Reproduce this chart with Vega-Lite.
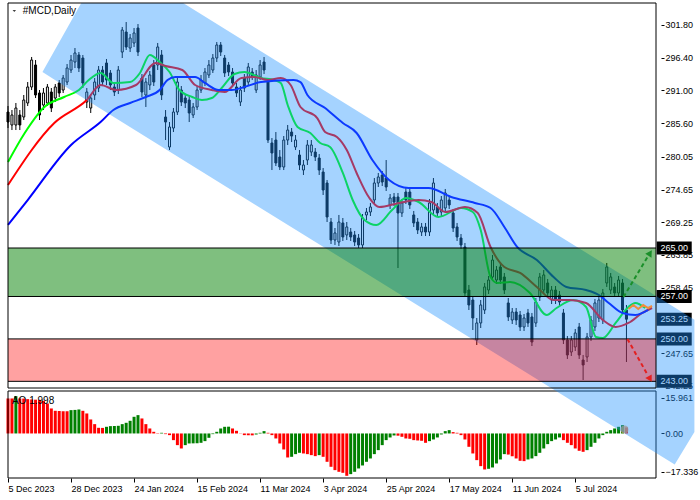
{
"$schema":"https://vega.github.io/schema/vega-lite/v6.json",
"width":700,"height":500,"autosize":"none","padding":0,"background":"#ffffff",
"config":{"view":{"stroke":null},"axis":{"grid":false,"domain":false,"labelFont":"Liberation Sans","labelFontSize":9,"labelColor":"#000000","tickColor":"#000000"}},
"datasets":{
"candles":[
{"i":0,"o":287.44,"h":288.43,"l":284.80,"c":285.79},
{"i":1,"o":285.30,"h":287.77,"l":284.47,"c":286.95},
{"i":2,"o":285.30,"h":288.93,"l":284.47,"c":288.10},
{"i":3,"o":286.95,"h":287.77,"l":284.47,"c":285.30},
{"i":4,"o":286.62,"h":290.25,"l":286.12,"c":289.42},
{"i":5,"o":288.93,"h":292.39,"l":288.43,"c":291.57},
{"i":6,"o":291.57,"h":296.52,"l":291.07,"c":296.02},
{"i":7,"o":295.20,"h":296.02,"l":289.75,"c":290.25},
{"i":8,"o":290.58,"h":291.07,"l":286.12,"c":286.95},
{"i":9,"o":288.60,"h":291.40,"l":287.77,"c":290.58},
{"i":10,"o":288.93,"h":292.06,"l":288.43,"c":291.57},
{"i":11,"o":290.74,"h":291.40,"l":287.44,"c":288.10},
{"i":12,"o":289.75,"h":292.06,"l":289.09,"c":291.57},
{"i":13,"o":292.23,"h":292.72,"l":289.92,"c":290.58},
{"i":14,"o":291.07,"h":293.55,"l":290.58,"c":293.05},
{"i":15,"o":292.39,"h":295.36,"l":291.90,"c":294.70},
{"i":16,"o":294.37,"h":296.85,"l":293.88,"c":296.02},
{"i":17,"o":295.69,"h":298.00,"l":294.70,"c":297.18},
{"i":18,"o":296.85,"h":297.34,"l":294.04,"c":294.70},
{"i":19,"o":296.35,"h":296.85,"l":291.40,"c":292.23},
{"i":20,"o":289.09,"h":291.40,"l":288.10,"c":290.74},
{"i":21,"o":288.10,"h":290.41,"l":287.28,"c":289.75},
{"i":22,"o":290.25,"h":293.05,"l":289.42,"c":292.39},
{"i":23,"o":291.40,"h":295.03,"l":290.74,"c":294.37},
{"i":24,"o":294.37,"h":295.03,"l":291.73,"c":292.39},
{"i":25,"o":295.53,"h":296.19,"l":291.90,"c":292.72},
{"i":26,"o":293.88,"h":294.37,"l":291.07,"c":291.90},
{"i":27,"o":291.57,"h":292.23,"l":290.08,"c":290.74},
{"i":28,"o":291.07,"h":295.03,"l":290.41,"c":294.37},
{"i":29,"o":297.34,"h":301.47,"l":296.35,"c":300.97},
{"i":30,"o":300.64,"h":302.29,"l":297.67,"c":298.17},
{"i":31,"o":298.00,"h":300.31,"l":297.34,"c":299.65},
{"i":32,"o":298.83,"h":301.30,"l":298.17,"c":300.48},
{"i":33,"o":301.30,"h":301.96,"l":296.68,"c":297.34},
{"i":34,"o":293.05,"h":293.71,"l":289.92,"c":290.74},
{"i":35,"o":290.25,"h":293.05,"l":288.27,"c":292.39},
{"i":36,"o":291.90,"h":294.21,"l":291.07,"c":293.55},
{"i":37,"o":295.20,"h":296.02,"l":291.73,"c":292.39},
{"i":38,"o":295.20,"h":298.83,"l":294.37,"c":298.17},
{"i":39,"o":296.85,"h":297.67,"l":289.42,"c":290.25},
{"i":40,"o":286.62,"h":287.77,"l":282.82,"c":285.79},
{"i":41,"o":281.67,"h":285.79,"l":281.17,"c":284.97},
{"i":42,"o":284.80,"h":288.10,"l":284.14,"c":287.44},
{"i":43,"o":287.44,"h":293.05,"l":286.95,"c":292.39},
{"i":44,"o":291.07,"h":291.73,"l":288.43,"c":289.09},
{"i":45,"o":289.75,"h":290.41,"l":288.10,"c":288.93},
{"i":46,"o":289.42,"h":290.08,"l":285.79,"c":287.28},
{"i":47,"o":286.95,"h":288.93,"l":286.45,"c":288.27},
{"i":48,"o":288.27,"h":291.73,"l":287.77,"c":291.07},
{"i":49,"o":291.07,"h":293.55,"l":290.58,"c":292.72},
{"i":50,"o":292.23,"h":294.70,"l":291.73,"c":294.04},
{"i":51,"o":293.55,"h":296.02,"l":293.05,"c":295.20},
{"i":52,"o":294.37,"h":297.01,"l":293.88,"c":296.35},
{"i":53,"o":296.35,"h":298.99,"l":295.69,"c":298.50},
{"i":54,"o":298.50,"h":298.99,"l":296.68,"c":297.34},
{"i":55,"o":296.35,"h":296.85,"l":293.22,"c":293.88},
{"i":56,"o":295.20,"h":295.69,"l":293.38,"c":294.04},
{"i":57,"o":294.04,"h":294.70,"l":291.57,"c":292.23},
{"i":58,"o":291.57,"h":292.23,"l":289.92,"c":290.58},
{"i":59,"o":289.09,"h":291.73,"l":288.43,"c":291.07},
{"i":60,"o":293.05,"h":293.71,"l":290.74,"c":291.40},
{"i":61,"o":292.39,"h":295.53,"l":291.73,"c":294.87},
{"i":62,"o":294.04,"h":294.70,"l":292.72,"c":293.22},
{"i":63,"o":291.07,"h":294.37,"l":290.58,"c":293.55},
{"i":64,"o":293.22,"h":296.02,"l":292.72,"c":295.20},
{"i":65,"o":295.69,"h":296.52,"l":293.71,"c":294.37},
{"i":66,"o":292.39,"h":293.05,"l":282.33,"c":282.82},
{"i":67,"o":282.33,"h":283.15,"l":277.87,"c":280.68},
{"i":68,"o":282.82,"h":284.14,"l":278.53,"c":279.03},
{"i":69,"o":280.02,"h":281.17,"l":277.87,"c":278.37},
{"i":70,"o":278.37,"h":283.48,"l":277.87,"c":282.82},
{"i":71,"o":282.82,"h":285.30,"l":282.00,"c":284.47},
{"i":72,"o":284.14,"h":284.80,"l":282.49,"c":283.48},
{"i":73,"o":281.67,"h":283.65,"l":281.17,"c":282.82},
{"i":74,"o":280.35,"h":281.17,"l":277.87,"c":278.70},
{"i":75,"o":277.87,"h":279.52,"l":277.05,"c":278.70},
{"i":76,"o":279.52,"h":282.82,"l":278.70,"c":282.00},
{"i":77,"o":280.84,"h":282.82,"l":280.18,"c":282.00},
{"i":78,"o":280.84,"h":281.50,"l":279.36,"c":280.02},
{"i":79,"o":279.85,"h":280.51,"l":277.05,"c":277.87},
{"i":80,"o":277.54,"h":278.20,"l":273.75,"c":274.57},
{"i":81,"o":275.73,"h":276.22,"l":269.29,"c":270.12},
{"i":82,"o":269.29,"h":269.95,"l":265.66,"c":266.32},
{"i":83,"o":266.32,"h":268.30,"l":265.50,"c":267.48},
{"i":84,"o":265.99,"h":270.45,"l":265.33,"c":269.29},
{"i":85,"o":269.13,"h":269.95,"l":266.16,"c":266.82},
{"i":86,"o":267.15,"h":269.29,"l":266.32,"c":268.47},
{"i":87,"o":267.64,"h":268.30,"l":266.16,"c":266.82},
{"i":88,"o":267.15,"h":267.81,"l":265.33,"c":265.99},
{"i":89,"o":266.65,"h":267.31,"l":265.00,"c":265.50},
{"i":90,"o":265.50,"h":270.61,"l":265.00,"c":269.95},
{"i":91,"o":270.45,"h":271.60,"l":269.62,"c":270.94},
{"i":92,"o":270.94,"h":272.43,"l":270.28,"c":271.77},
{"i":93,"o":272.92,"h":276.55,"l":272.26,"c":275.73},
{"i":94,"o":275.73,"h":277.38,"l":275.07,"c":276.72},
{"i":95,"o":277.05,"h":277.71,"l":275.23,"c":275.89},
{"i":96,"o":276.55,"h":279.52,"l":274.41,"c":275.07},
{"i":97,"o":272.10,"h":273.91,"l":271.44,"c":273.25},
{"i":98,"o":273.42,"h":274.08,"l":271.93,"c":272.59},
{"i":99,"o":273.42,"h":274.08,"l":261.70,"c":270.78},
{"i":100,"o":270.78,"h":273.09,"l":270.12,"c":272.43},
{"i":101,"o":274.24,"h":274.90,"l":272.26,"c":272.92},
{"i":102,"o":274.24,"h":274.90,"l":271.44,"c":272.10},
{"i":103,"o":270.45,"h":271.11,"l":268.47,"c":269.13},
{"i":104,"o":269.29,"h":269.95,"l":267.31,"c":267.97},
{"i":105,"o":267.64,"h":269.13,"l":266.98,"c":268.47},
{"i":106,"o":268.47,"h":269.13,"l":266.98,"c":267.64},
{"i":107,"o":267.64,"h":273.09,"l":266.98,"c":272.43},
{"i":108,"o":271.27,"h":276.55,"l":270.61,"c":275.73},
{"i":109,"o":271.77,"h":272.43,"l":270.12,"c":270.78},
{"i":110,"o":270.94,"h":273.58,"l":270.28,"c":272.92},
{"i":111,"o":271.60,"h":274.74,"l":270.94,"c":274.08},
{"i":112,"o":272.92,"h":273.58,"l":271.44,"c":272.10},
{"i":113,"o":270.78,"h":271.44,"l":267.64,"c":268.30},
{"i":114,"o":268.47,"h":269.13,"l":266.16,"c":266.82},
{"i":115,"o":266.65,"h":267.31,"l":264.84,"c":265.50},
{"i":116,"o":265.17,"h":265.83,"l":256.92,"c":257.58},
{"i":117,"o":258.07,"h":258.90,"l":254.77,"c":255.60},
{"i":118,"o":256.42,"h":257.08,"l":251.47,"c":253.45},
{"i":119,"o":249.82,"h":253.45,"l":249.00,"c":252.63},
{"i":120,"o":252.63,"h":256.42,"l":251.80,"c":255.60},
{"i":121,"o":254.77,"h":259.23,"l":254.11,"c":258.57},
{"i":122,"o":258.07,"h":260.38,"l":257.41,"c":259.72},
{"i":123,"o":260.22,"h":263.85,"l":259.56,"c":263.02},
{"i":124,"o":259.72,"h":262.03,"l":259.06,"c":261.37},
{"i":125,"o":261.87,"h":262.69,"l":259.06,"c":259.72},
{"i":126,"o":260.22,"h":260.88,"l":257.41,"c":258.07},
{"i":127,"o":255.93,"h":256.75,"l":252.96,"c":253.62},
{"i":128,"o":253.12,"h":255.10,"l":252.46,"c":254.44},
{"i":129,"o":254.44,"h":255.10,"l":252.30,"c":253.12},
{"i":130,"o":253.95,"h":254.61,"l":251.31,"c":251.97},
{"i":131,"o":251.97,"h":254.11,"l":251.31,"c":253.45},
{"i":132,"o":254.28,"h":254.94,"l":251.97,"c":252.63},
{"i":133,"o":253.62,"h":254.28,"l":248.83,"c":249.49},
{"i":134,"o":252.63,"h":256.75,"l":251.97,"c":256.09},
{"i":135,"o":256.92,"h":260.88,"l":256.26,"c":260.22},
{"i":136,"o":258.07,"h":261.37,"l":257.41,"c":260.55},
{"i":137,"o":259.23,"h":259.89,"l":256.92,"c":257.58},
{"i":138,"o":256.42,"h":258.73,"l":255.76,"c":258.07},
{"i":139,"o":258.07,"h":258.73,"l":255.76,"c":256.42},
{"i":140,"o":257.25,"h":257.91,"l":255.43,"c":256.09},
{"i":141,"o":254.28,"h":254.94,"l":249.16,"c":249.82},
{"i":142,"o":249.82,"h":250.48,"l":246.69,"c":247.35},
{"i":143,"o":247.84,"h":250.48,"l":247.18,"c":249.82},
{"i":144,"o":248.67,"h":251.64,"l":248.01,"c":250.98},
{"i":145,"o":251.97,"h":252.63,"l":246.69,"c":247.35},
{"i":146,"o":246.52,"h":247.35,"l":243.22,"c":245.70},
{"i":147,"o":247.02,"h":250.98,"l":246.19,"c":250.32},
{"i":148,"o":250.32,"h":253.78,"l":249.66,"c":253.12},
{"i":149,"o":251.97,"h":256.59,"l":251.31,"c":255.93},
{"i":150,"o":253.45,"h":257.08,"l":252.79,"c":256.42},
{"i":151,"o":253.12,"h":258.24,"l":252.46,"c":257.58},
{"i":152,"o":259.23,"h":262.53,"l":258.57,"c":261.87},
{"i":153,"o":258.07,"h":260.88,"l":257.41,"c":260.22},
{"i":154,"o":258.57,"h":259.23,"l":256.92,"c":257.58},
{"i":155,"o":257.58,"h":260.38,"l":256.92,"c":259.72},
{"i":156,"o":259.23,"h":259.89,"l":254.11,"c":254.77},
{"i":157,"o":254.77,"h":255.60,"l":246.19,"c":253.25}
],
"lines":[
{"s":"lips","i":0,"p":279.19},{"s":"lips","i":4.25,"p":283.98},{"s":"lips","i":9.25,"p":288.27},{"s":"lips","i":14.25,"p":289.92},{"s":"lips","i":18,"p":291.07},{"s":"lips","i":20.5,"p":292.72},{"s":"lips","i":23.5,"p":293.88},{"s":"lips","i":26.75,"p":292.23},{"s":"lips","i":31,"p":292.39},{"s":"lips","i":33.5,"p":293.88},{"s":"lips","i":36,"p":296.85},{"s":"lips","i":38.5,"p":295.69},{"s":"lips","i":41,"p":294.04},{"s":"lips","i":43.5,"p":291.07},{"s":"lips","i":46.75,"p":289.92},{"s":"lips","i":49.25,"p":289.42},{"s":"lips","i":51.75,"p":289.75},{"s":"lips","i":54.25,"p":291.40},{"s":"lips","i":57.5,"p":293.71},{"s":"lips","i":60,"p":294.04},{"s":"lips","i":64.25,"p":293.05},{"s":"lips","i":67.5,"p":292.72},{"s":"lips","i":69.25,"p":292.23},{"s":"lips","i":71,"p":288.60},{"s":"lips","i":73.5,"p":284.97},{"s":"lips","i":76.75,"p":283.98},{"s":"lips","i":79.25,"p":282.33},{"s":"lips","i":81.75,"p":281.67},{"s":"lips","i":85,"p":277.38},{"s":"lips","i":87.5,"p":272.92},{"s":"lips","i":90.5,"p":269.62},{"s":"lips","i":93.5,"p":268.80},{"s":"lips","i":97.5,"p":271.27},{"s":"lips","i":101,"p":273.25},{"s":"lips","i":104.25,"p":272.59},{"s":"lips","i":109.25,"p":270.12},{"s":"lips","i":115,"p":271.60},{"s":"lips","i":118,"p":270.94},{"s":"lips","i":120,"p":267.97},{"s":"lips","i":122.5,"p":260.22},{"s":"lips","i":124.25,"p":259.23},{"s":"lips","i":127.5,"p":259.39},{"s":"lips","i":132.5,"p":257.58},{"s":"lips","i":136.75,"p":253.95},{"s":"lips","i":139.25,"p":255.10},{"s":"lips","i":143.5,"p":256.42},{"s":"lips","i":146.75,"p":255.27},{"s":"lips","i":149.25,"p":250.32},{"s":"lips","i":151,"p":250.15},{"s":"lips","i":154.25,"p":252.63},{"s":"lips","i":157.5,"p":255.27},{"s":"lips","i":159.25,"p":255.93},{"s":"lips","i":161.75,"p":255.10},
{"s":"teeth","i":0,"p":275.40},{"s":"teeth","i":11.75,"p":285.63},{"s":"teeth","i":20,"p":289.42},{"s":"teeth","i":23.5,"p":291.90},{"s":"teeth","i":27.5,"p":291.07},{"s":"teeth","i":32.5,"p":291.90},{"s":"teeth","i":37.5,"p":295.53},{"s":"teeth","i":40,"p":295.03},{"s":"teeth","i":44.25,"p":294.37},{"s":"teeth","i":47.5,"p":291.90},{"s":"teeth","i":51.75,"p":291.07},{"s":"teeth","i":55,"p":290.74},{"s":"teeth","i":59.25,"p":293.05},{"s":"teeth","i":62.5,"p":293.22},{"s":"teeth","i":66,"p":292.72},{"s":"teeth","i":69.25,"p":293.05},{"s":"teeth","i":71.75,"p":291.90},{"s":"teeth","i":74.25,"p":288.27},{"s":"teeth","i":78.5,"p":286.45},{"s":"teeth","i":80.5,"p":284.14},{"s":"teeth","i":83.5,"p":283.32},{"s":"teeth","i":86,"p":281.17},{"s":"teeth","i":88.5,"p":277.38},{"s":"teeth","i":91.75,"p":273.25},{"s":"teeth","i":94.25,"p":271.77},{"s":"teeth","i":99.25,"p":272.43},{"s":"teeth","i":104.25,"p":272.92},{"s":"teeth","i":107.5,"p":272.59},{"s":"teeth","i":111,"p":270.94},{"s":"teeth","i":116,"p":271.77},{"s":"teeth","i":119.25,"p":270.78},{"s":"teeth","i":122.5,"p":265.17},{"s":"teeth","i":126,"p":261.87},{"s":"teeth","i":130,"p":260.88},{"s":"teeth","i":134.25,"p":258.57},{"s":"teeth","i":138.5,"p":256.42},{"s":"teeth","i":142.5,"p":256.42},{"s":"teeth","i":146.75,"p":255.93},{"s":"teeth","i":151,"p":253.12},{"s":"teeth","i":154.25,"p":251.97},{"s":"teeth","i":157.5,"p":252.63},{"s":"teeth","i":161,"p":254.28},{"s":"teeth","i":163.5,"p":255.10},
{"s":"jaw","i":0,"p":268.80},{"s":"jaw","i":5,"p":272.92},{"s":"jaw","i":16,"p":282.00},{"s":"jaw","i":23.5,"p":285.79},{"s":"jaw","i":26.75,"p":287.77},{"s":"jaw","i":31,"p":288.93},{"s":"jaw","i":35,"p":289.92},{"s":"jaw","i":38.5,"p":291.07},{"s":"jaw","i":40.5,"p":292.72},{"s":"jaw","i":42.5,"p":293.22},{"s":"jaw","i":47.5,"p":293.22},{"s":"jaw","i":50,"p":292.23},{"s":"jaw","i":53.5,"p":291.07},{"s":"jaw","i":56.75,"p":291.07},{"s":"jaw","i":60,"p":291.57},{"s":"jaw","i":64.25,"p":292.39},{"s":"jaw","i":72.5,"p":292.72},{"s":"jaw","i":74.25,"p":292.39},{"s":"jaw","i":76,"p":290.25},{"s":"jaw","i":80.5,"p":288.10},{"s":"jaw","i":85,"p":285.63},{"s":"jaw","i":88.5,"p":283.98},{"s":"jaw","i":92.5,"p":279.52},{"s":"jaw","i":96.75,"p":276.22},{"s":"jaw","i":101.75,"p":274.90},{"s":"jaw","i":106.75,"p":274.90},{"s":"jaw","i":112.5,"p":273.42},{"s":"jaw","i":118.5,"p":272.43},{"s":"jaw","i":122.5,"p":271.60},{"s":"jaw","i":126,"p":268.47},{"s":"jaw","i":129.25,"p":265.17},{"s":"jaw","i":134.25,"p":263.02},{"s":"jaw","i":138.5,"p":260.22},{"s":"jaw","i":141.75,"p":258.57},{"s":"jaw","i":146.75,"p":258.07},{"s":"jaw","i":150,"p":257.25},{"s":"jaw","i":152.5,"p":255.93},{"s":"jaw","i":156,"p":254.28},{"s":"jaw","i":159.25,"p":253.95},{"s":"jaw","i":162.5,"p":254.77}
],
"ao":[
{"i":0,"ao":15.75,"u":"r"},{"i":1,"ao":15.75,"u":"r"},{"i":2,"ao":16.8,"u":"g"},{"i":3,"ao":15.75,"u":"r"},{"i":4,"ao":15.7,"u":"r"},{"i":5,"ao":15.45,"u":"r"},{"i":6,"ao":15.3,"u":"r"},{"i":7,"ao":15.2,"u":"r"},{"i":8,"ao":15.1,"u":"r"},{"i":9,"ao":14.7,"u":"r"},
{"i":10,"ao":13.5,"u":"r"},{"i":11,"ao":11.25,"u":"r"},{"i":12,"ao":10.2,"u":"r"},{"i":13,"ao":10.1,"u":"r"},{"i":14,"ao":10.05,"u":"r"},{"i":15,"ao":10.0,"u":"r"},{"i":16,"ao":10.5,"u":"g"},{"i":17,"ao":10.6,"u":"g"},{"i":18,"ao":10.8,"u":"g"},{"i":19,"ao":10.2,"u":"r"},
{"i":20,"ao":9.0,"u":"r"},{"i":21,"ao":6.3,"u":"r"},{"i":22,"ao":4.2,"u":"r"},{"i":23,"ao":2.55,"u":"r"},{"i":24,"ao":2.5,"u":"r"},{"i":25,"ao":3.0,"u":"g"},{"i":26,"ao":3.3,"u":"g"},{"i":27,"ao":3.35,"u":"g"},{"i":28,"ao":3.45,"u":"g"},{"i":29,"ao":4.2,"u":"g"},
{"i":30,"ao":4.8,"u":"g"},{"i":31,"ao":5.7,"u":"g"},{"i":32,"ao":7.5,"u":"g"},{"i":33,"ao":8.25,"u":"g"},{"i":34,"ao":6.75,"u":"r"},{"i":35,"ao":4.2,"u":"r"},{"i":36,"ao":2.25,"u":"r"},{"i":37,"ao":0.75,"u":"r"},{"i":38,"ao":0.15,"u":"r"},{"i":39,"ao":0.3,"u":"g"},
{"i":40,"ao":-0.3,"u":"r"},{"i":41,"ao":-0.75,"u":"r"},{"i":42,"ao":-3.0,"u":"r"},{"i":43,"ao":-5.25,"u":"r"},{"i":44,"ao":-6.75,"u":"r"},{"i":45,"ao":-5.25,"u":"g"},{"i":46,"ao":-4.5,"u":"g"},{"i":47,"ao":-4.45,"u":"g"},{"i":48,"ao":-4.4,"u":"g"},{"i":49,"ao":-4.2,"u":"g"},
{"i":50,"ao":-3.45,"u":"g"},{"i":51,"ao":-1.95,"u":"g"},{"i":52,"ao":-0.3,"u":"g"},{"i":53,"ao":0.75,"u":"g"},{"i":54,"ao":2.25,"u":"g"},{"i":55,"ao":3.0,"u":"g"},{"i":56,"ao":3.05,"u":"g"},{"i":57,"ao":2.25,"u":"r"},{"i":58,"ao":1.2,"u":"r"},{"i":59,"ao":0.1,"u":"r"},
{"i":60,"ao":-0.75,"u":"r"},{"i":61,"ao":-0.8,"u":"r"},{"i":62,"ao":-0.85,"u":"r"},{"i":63,"ao":-0.45,"u":"g"},{"i":64,"ao":0.3,"u":"g"},{"i":65,"ao":1.05,"u":"g"},{"i":66,"ao":0.3,"u":"r"},{"i":67,"ao":-0.75,"u":"r"},{"i":68,"ao":-2.25,"u":"r"},{"i":69,"ao":-4.5,"u":"r"},
{"i":70,"ao":-7.2,"u":"r"},{"i":71,"ao":-10.8,"u":"r"},{"i":72,"ao":-10.5,"u":"g"},{"i":73,"ao":-9.3,"u":"g"},{"i":74,"ao":-8.7,"u":"g"},{"i":75,"ao":-9.0,"u":"r"},{"i":76,"ao":-9.3,"u":"r"},{"i":77,"ao":-9.75,"u":"r"},{"i":78,"ao":-10.2,"u":"r"},{"i":79,"ao":-9.75,"u":"g"},
{"i":80,"ao":-10.5,"u":"r"},{"i":81,"ao":-12.75,"u":"r"},{"i":82,"ao":-15.0,"u":"r"},{"i":83,"ao":-16.5,"u":"r"},{"i":84,"ao":-17.25,"u":"r"},{"i":85,"ao":-17.7,"u":"r"},{"i":86,"ao":-19.05,"u":"r"},{"i":87,"ao":-18.3,"u":"g"},{"i":88,"ao":-17.25,"u":"g"},{"i":89,"ao":-15.75,"u":"g"},
{"i":90,"ao":-14.4,"u":"g"},{"i":91,"ao":-12.75,"u":"g"},{"i":92,"ao":-11.25,"u":"g"},{"i":93,"ao":-9.3,"u":"g"},{"i":94,"ao":-7.5,"u":"g"},{"i":95,"ao":-5.25,"u":"g"},{"i":96,"ao":-3.0,"u":"g"},{"i":97,"ao":-1.8,"u":"g"},{"i":98,"ao":-0.9,"u":"g"},{"i":99,"ao":-1.0,"u":"r"},
{"i":100,"ao":-1.5,"u":"r"},{"i":101,"ao":-2.25,"u":"r"},{"i":102,"ao":-2.4,"u":"r"},{"i":103,"ao":-3.0,"u":"r"},{"i":104,"ao":-3.15,"u":"r"},{"i":105,"ao":-3.3,"u":"r"},{"i":106,"ao":-4.2,"u":"r"},{"i":107,"ao":-3.45,"u":"g"},{"i":108,"ao":-2.7,"u":"g"},{"i":109,"ao":-1.8,"u":"g"},
{"i":110,"ao":-0.45,"u":"g"},{"i":111,"ao":1.05,"u":"g"},{"i":112,"ao":1.5,"u":"g"},{"i":113,"ao":0.6,"u":"r"},{"i":114,"ao":0.3,"u":"r"},{"i":115,"ao":-0.75,"u":"r"},{"i":116,"ao":-2.7,"u":"r"},{"i":117,"ao":-6.0,"u":"r"},{"i":118,"ao":-9.0,"u":"r"},{"i":119,"ao":-12.0,"u":"r"},
{"i":120,"ao":-14.7,"u":"r"},{"i":121,"ao":-16.2,"u":"r"},{"i":122,"ao":-15.9,"u":"g"},{"i":123,"ao":-15.3,"u":"g"},{"i":124,"ao":-13.5,"u":"g"},{"i":125,"ao":-11.7,"u":"g"},{"i":126,"ao":-9.3,"u":"g"},{"i":127,"ao":-9.5,"u":"r"},{"i":128,"ao":-10.2,"u":"r"},{"i":129,"ao":-11.25,"u":"r"},
{"i":130,"ao":-12.3,"u":"r"},{"i":131,"ao":-12.45,"u":"r"},{"i":132,"ao":-11.7,"u":"g"},{"i":133,"ao":-11.25,"u":"g"},{"i":134,"ao":-10.2,"u":"g"},{"i":135,"ao":-8.7,"u":"g"},{"i":136,"ao":-6.75,"u":"g"},{"i":137,"ao":-4.8,"u":"g"},{"i":138,"ao":-3.45,"u":"g"},{"i":139,"ao":-2.7,"u":"g"},
{"i":140,"ao":-1.8,"u":"g"},{"i":141,"ao":-3.0,"u":"r"},{"i":142,"ao":-4.2,"u":"r"},{"i":143,"ao":-5.25,"u":"r"},{"i":144,"ao":-6.75,"u":"r"},{"i":145,"ao":-7.8,"u":"r"},{"i":146,"ao":-8.25,"u":"r"},{"i":147,"ao":-7.5,"u":"g"},{"i":148,"ao":-6.0,"u":"g"},{"i":149,"ao":-4.2,"u":"g"},
{"i":150,"ao":-2.25,"u":"g"},{"i":151,"ao":-0.75,"u":"g"},{"i":152,"ao":0.75,"u":"g"},{"i":153,"ao":1.5,"u":"g"},{"i":154,"ao":2.25,"u":"g"},{"i":155,"ao":3.0,"u":"g"},{"i":156,"ao":3.75,"u":"g"},{"i":157,"ao":2.7,"u":"r"}
],
"band":[{"i":8.75,"top":294.04,"bot":294.04},{"i":18.6,"top":305.43,"bot":289.94},{"i":44.45,"top":305.43,"bot":279.52},{"i":169.25,"top":255.18,"bot":229.28},{"i":174.25,"top":253.17,"bot":234.64}],
"zones":[{"z":"g","lo":257,"hi":265},{"z":"r","lo":243,"hi":250}],
"levels":[{"p":265},{"p":257},{"p":250},{"p":243}],
"boxes":[{"p":265,"t":"265.00"},{"p":257,"t":"257.00"},{"p":253.25,"t":"253.25"},{"p":250,"t":"250.00"},{"p":243,"t":"243.00"}],
"arrows":[{"a":"up","i":156.25,"p":256.92},{"a":"up","i":162.5,"p":263.68},{"a":"dn","i":157.25,"p":249.99},{"a":"dn","i":162.25,"p":244.21}],
"heads":[{"a":"up","i":163,"p":264.18},{"a":"dn","i":163,"p":243.38}],
"fc":[{"i":157.5,"p":254.94},{"i":158.75,"p":255.60},{"i":160,"p":254.94},{"i":161.25,"p":255.60},{"i":162.5,"p":255.10},{"i":163.5,"p":255.43}]
},
"layer":[
{"layer":[
 {"data":{"name":"candles"},"mark":{"type":"rule","color":"#000000","strokeWidth":1},
  "encoding":{
   "x":{"field":"i","type":"quantitative","scale":{"domain":[0,164.5],"range":[3,661],"nice":false,"zero":false}},
   "y":{"field":"l","type":"quantitative","scale":{"domain":[241.9,305.43],"range":[388,3],"nice":false,"zero":false},
        "axis":{"orient":"right","offset":-39,"title":null,"zindex":0,"labelColor":"#000000","tickColor":"#000000","values":[301.8,296.4,291.0,285.6,280.05,274.65,269.25,263.85,258.45,247.65,242.25],"format":".2f","tickSize":3,"labelPadding":1,"labelAlign":"left","labelBaseline":"middle","labelOverlap":false,"labelFlush":false}},
   "y2":{"field":"h"}}},
 {"data":{"name":"candles"},"mark":{"type":"bar","size":2,"stroke":"#000000","strokeWidth":1},
  "encoding":{
   "x":{"field":"i","type":"quantitative"},
   "y":{"field":"o","type":"quantitative"},
   "y2":{"field":"c"},
   "fill":{"condition":{"test":"datum.c >= datum.o","value":"#ffffff"},"value":"#000000"}}},
 {"data":{"name":"lines"},"mark":{"type":"line","strokeWidth":2,"interpolate":"monotone"},
  "encoding":{
   "x":{"field":"i","type":"quantitative"},
   "y":{"field":"p","type":"quantitative"},
   "color":{"field":"s","type":"nominal","scale":{"domain":["jaw","teeth","lips"],"range":["#0000ff","#ff0000","#00ff00"]},"legend":null}}},
 {"data":{"name":"boxes"},"mark":{"type":"tick","orient":"horizontal","size":35,"thickness":13,"color":"#000000","opacity":1,"filled":true},
  "encoding":{
   "x":{"datum":169.125,"type":"quantitative"},
   "y":{"field":"p","type":"quantitative"}}},
 {"data":{"name":"boxes"},"mark":{"type":"text","color":"#ffffff","font":"Liberation Sans","fontSize":9,"align":"center","baseline":"middle"},
  "encoding":{
   "x":{"datum":169.125,"type":"quantitative"},
   "y":{"field":"p","type":"quantitative"},
   "text":{"field":"t"}}}
]},
{"layer":[
 {"data":{"name":"ao"},"mark":{"type":"bar","size":3},
  "encoding":{
   "x":{"field":"i","type":"quantitative",
        "axis":{"orient":"bottom","offset":-22,"title":null,"zindex":0,"labelColor":"#000000","tickColor":"#000000","values":[0,16,32,48,64,80,96,112,128,144],
                "labelExpr":"['5 Dec 2023','28 Dec 2023','24 Jan 2024','15 Feb 2024','11 Mar 2024','3 Apr 2024','25 Apr 2024','17 May 2024','11 Jun 2024','5 Jul 2024'][round(datum.value/16)]",
                "labelAlign":"left","labelBaseline":"top","labelFlush":false,"labelOverlap":false,"tickSize":4,"labelPadding":2}},
   "y":{"field":"ao","type":"quantitative","scale":{"domain":[-20.04,19.11],"range":[478,391],"nice":false,"zero":false},
        "axis":{"orient":"right","offset":-39,"title":null,"zindex":0,"labelColor":"#000000","tickColor":"#000000","values":[15.961,0,-17.336],"labelExpr":"datum.value == 0 ? '0.00' : format(datum.value, '.3f')","tickSize":3,"labelPadding":1,"labelAlign":"left","labelBaseline":"middle","labelOverlap":false,"labelFlush":false}},
   "y2":{"datum":0},
   "color":{"field":"u","type":"nominal","scale":{"domain":["g","r"],"range":["#008000","#ff0000"]},"legend":null}}},
 {"data":{"values":[{}]},"mark":{"type":"text","text":"AO 1.998","font":"Liberation Sans","fontSize":10,"color":"#000000","align":"left","baseline":"middle"},
  "encoding":{"x":{"datum":1.0,"type":"quantitative"},"y":{"datum":14.76,"type":"quantitative"}}},
 {"data":{"values":[{}]},"mark":{"type":"point","shape":"circle","filled":true,"color":"#f0a050","opacity":0.75,"size":60},
  "encoding":{"x":{"datum":156.5,"type":"quantitative"},"y":{"datum":1.8,"type":"quantitative"}}},
 {"data":{"values":[{}]},"mark":{"type":"rect","fillOpacity":0,"stroke":"#000000","strokeWidth":1},
  "encoding":{"x":{"datum":0,"type":"quantitative"},"x2":{"datum":164.5},"y":{"datum":-20.04,"type":"quantitative"},"y2":{"datum":19.11}}}
]},
{"layer":[
 {"data":{"name":"band"},"mark":{"type":"area","color":"#1e90ff","opacity":0.4,"interpolate":"linear","clip":false},
  "encoding":{
   "x":{"field":"i","type":"quantitative"},
   "y":{"field":"top","type":"quantitative","scale":{"domain":[241.9,305.43],"range":[388,3],"nice":false,"zero":false},"axis":null},
   "y2":{"field":"bot"}}},
 {"data":{"name":"zones"},"mark":{"type":"rect"},
  "encoding":{
   "x":{"datum":0,"type":"quantitative"},"x2":{"datum":164.5},
   "y":{"field":"lo","type":"quantitative","axis":null},"y2":{"field":"hi"},
   "color":{"field":"z","type":"nominal","scale":{"domain":["g","r"],"range":["#008000","#ff0000"]},"legend":null},
   "opacity":{"field":"z","type":"nominal","scale":{"domain":["g","r"],"range":[0.5,0.37]},"legend":null}}},
 {"data":{"name":"levels"},"mark":{"type":"rule","color":"#000000","strokeWidth":1},
  "encoding":{"x":{"datum":0,"type":"quantitative"},"x2":{"datum":164.5},"y":{"field":"p","type":"quantitative","axis":null}}},
 {"data":{"name":"arrows"},"mark":{"type":"line","strokeWidth":2,"strokeDash":[4,3]},
  "encoding":{
   "x":{"field":"i","type":"quantitative"},
   "y":{"field":"p","type":"quantitative","axis":null},
   "color":{"field":"a","type":"nominal","scale":{"domain":["up","dn"],"range":["#1a8f2a","#e32020"]},"legend":null}}},
 {"data":{"name":"heads"},"transform":[{"filter":"datum.a == 'up'"}],"mark":{"type":"point","shape":"triangle-up","filled":true,"size":55,"angle":33,"color":"#1a8f2a","opacity":1},
  "encoding":{"x":{"field":"i","type":"quantitative"},"y":{"field":"p","type":"quantitative","axis":null}}},
 {"data":{"name":"heads"},"transform":[{"filter":"datum.a == 'dn'"}],"mark":{"type":"point","shape":"triangle-up","filled":true,"size":55,"angle":150,"color":"#e32020","opacity":1},
  "encoding":{"x":{"field":"i","type":"quantitative"},"y":{"field":"p","type":"quantitative","axis":null}}},
 {"data":{"name":"fc"},"mark":{"type":"line","color":"#f08c3c","strokeWidth":2},
  "encoding":{"x":{"field":"i","type":"quantitative"},"y":{"field":"p","type":"quantitative","axis":null}}},
 {"data":{"values":[{}]},"mark":{"type":"rect","fillOpacity":0,"stroke":"#000000","strokeWidth":1},
  "encoding":{"x":{"datum":0,"type":"quantitative"},"x2":{"datum":164.5},"y":{"datum":241.9,"type":"quantitative","axis":null},"y2":{"datum":305.43}}},
 {"data":{"values":[{}]},"mark":{"type":"text","text":"#MCD,Daily","font":"Liberation Sans","fontSize":10,"color":"#000000","align":"left","baseline":"middle"},
  "encoding":{"x":{"datum":3.75,"type":"quantitative"},"y":{"datum":304.11,"type":"quantitative","axis":null}}},
 {"data":{"values":[{}]},"mark":{"type":"point","shape":"M-1,-0.5L1,-0.5L0,0.5Z","filled":true,"size":12,"color":"#000000","opacity":1},
  "encoding":{"x":{"datum":1.6,"type":"quantitative"},"y":{"datum":304.11,"type":"quantitative","axis":null}}}
],
 "resolve":{"scale":{"color":"independent","opacity":"independent"}}}
],
"resolve":{"scale":{"y":"independent","color":"independent","opacity":"independent"}}
}
